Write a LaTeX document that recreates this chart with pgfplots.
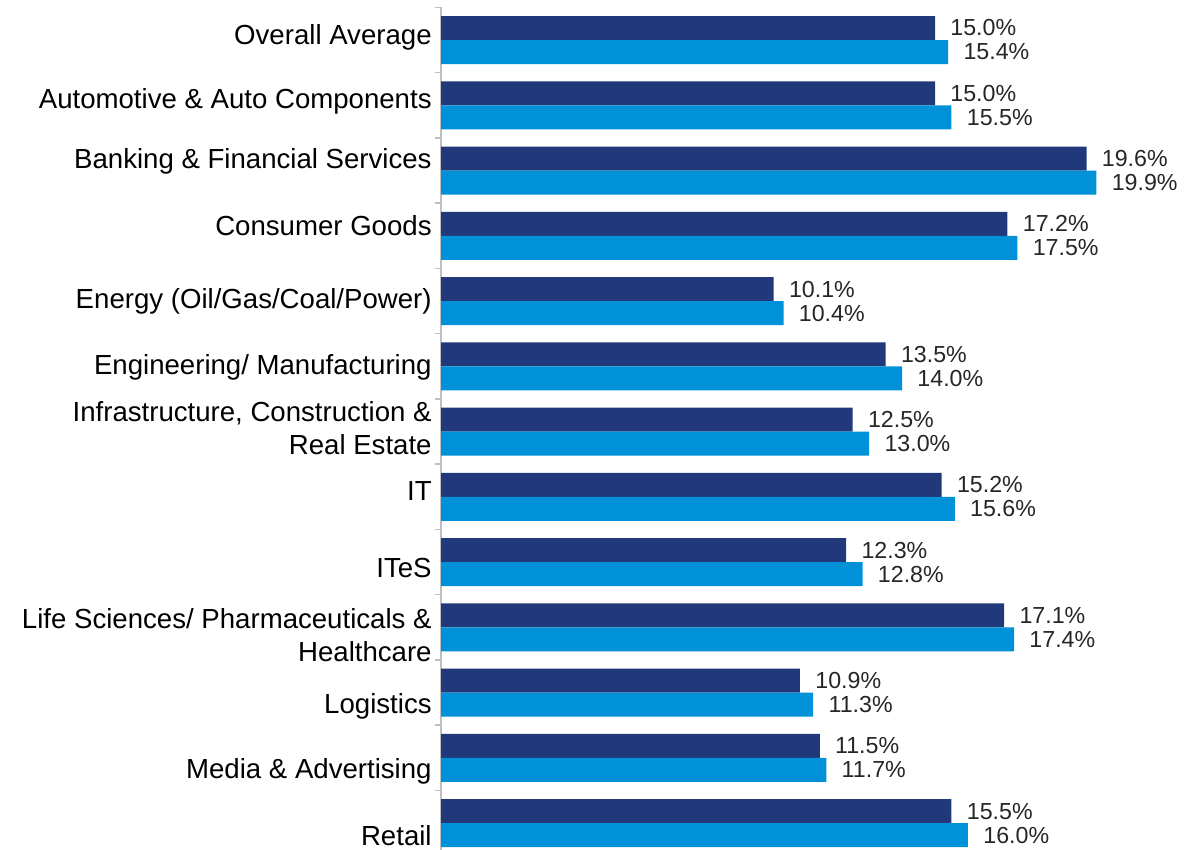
\documentclass[border=0pt]{standalone}
\usepackage{pgfplots}
\pgfplotsset{compat=1.18}
\usepackage{fontspec}
\setmainfont{Liberation Sans}
\definecolor{dark}{HTML}{21397A}
\definecolor{light}{HTML}{0091D8}
\newcommand{\rl}[2]{\raisebox{#1pt}[\height][\depth]{#2}}
\newcommand{\rt}[2]{\raisebox{#1pt}[\height][\depth]{\begin{tabular}{@{}r@{}}#2\end{tabular}}}
\begin{document}
\begin{tikzpicture}
\begin{axis}[
  x=16.465pt, y=32.625pt,
  xmin=0, xmax=22.5, ymin=-0.5, ymax=12.5,
  y dir=reverse,
  axis x line=none, axis y line=left,
  axis line style={-, color=gray!50, line width=0.8pt},
  ytick={0,...,12},
  yticklabels={\rl{1.5}{Overall Average}, \rl{2}{Automotive \& Auto Components}, \rl{4.5}{Banking \& Financial Services}, \rl{5}{Consumer Goods}, \rl{0}{Energy (Oil/Gas/Coal/Power)}, \rl{-0.5}{Engineering/ Manufacturing}, \rt{0}{Infrastructure, Construction \&\\Real Estate}, \rl{3}{IT}, \rl{-3}{ITeS}, \rt{-5.5}{Life Sciences/ Pharmaceuticals \&\\Healthcare}, \rl{-7}{Logistics}, \rl{-7}{Media \& Advertising}, \rl{-6.5}{Retail}},
  major tick length=0pt,
  minor ytick={-0.5,0.5,...,12.5},
  minor tick length=3pt,
  tick align=outside, tick pos=left,
  minor tick style={gray!50, line width=0.8pt},
  yticklabel style={font=\fontsize{13.8}{16.5}\selectfont, inner sep=0pt, xshift=-4.5pt},
  xbar, bar width=12pt,
  clip=false,
  nodes near coords={\pgfmathprintnumber[fixed,fixed zerofill,precision=1]{\pgfplotspointmeta}\%},
  nodes near coords style={font=\fontsize{11.6}{13}\selectfont, anchor=west, inner sep=0pt, xshift=7.5pt, text=black!85},
  /pgf/number format/assume math mode=true,
]
\addplot[fill=dark, draw=none, bar shift=6pt] coordinates {
(15.0,0) (15.0,1) (19.6,2) (17.2,3) (10.1,4) (13.5,5) (12.5,6) (15.2,7) (12.3,8) (17.1,9) (10.9,10) (11.5,11) (15.5,12)};
\addplot[fill=light, draw=none, bar shift=-6pt] coordinates {
(15.4,0) (15.5,1) (19.9,2) (17.5,3) (10.4,4) (14.0,5) (13.0,6) (15.6,7) (12.8,8) (17.4,9) (11.3,10) (11.7,11) (16.0,12)};
\coordinate (tl) at (axis cs:-13.392,-0.613);
\coordinate (br) at (axis cs:22.56,12.398);
\end{axis}
\pgfresetboundingbox
\path[use as bounding box] (tl) rectangle (br);
\end{tikzpicture}
\end{document}
